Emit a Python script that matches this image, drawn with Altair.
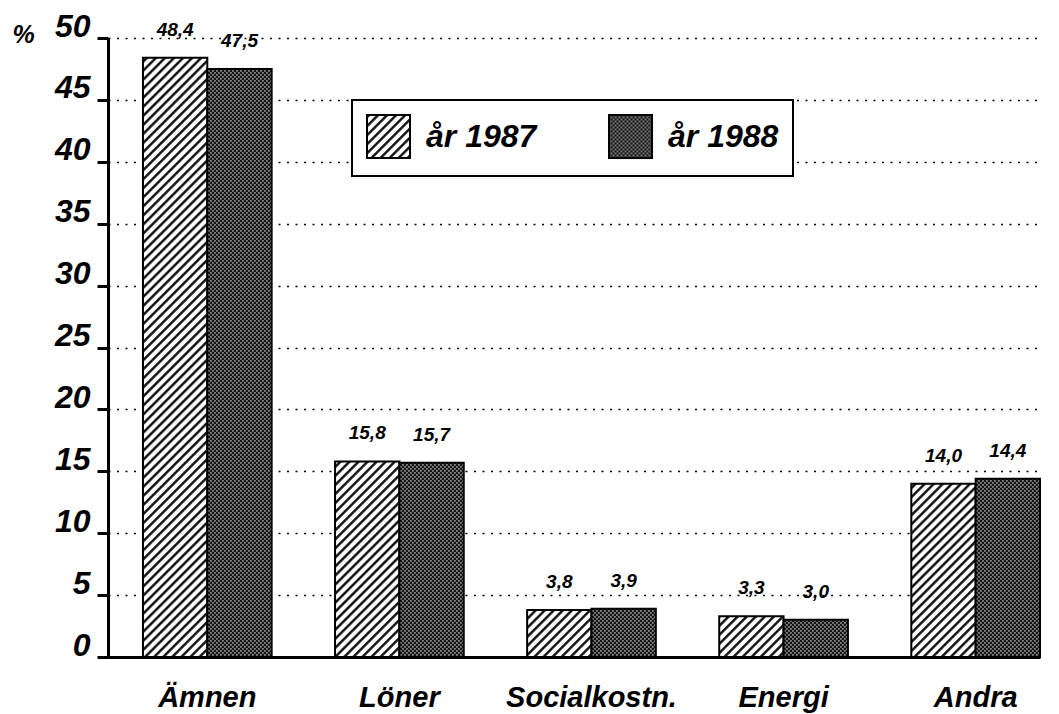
import re
import altair as alt
import pandas as pd
import altair.utils.mimebundle as _mb

# ---------------- data ----------------
categories = ["Ämnen", "Löner", "Socialkostn.", "Energi", "Andra"]
years = ["år 1987", "år 1988"]
values_1987 = [48.4, 15.8, 3.8, 3.3, 14.0]
values_1988 = [47.5, 15.7, 3.9, 3.0, 14.4]
y_ticks = [0, 5, 10, 15, 20, 25, 30, 35, 40, 45, 50]

rows = []
for cat, v87, v88 in zip(categories, values_1987, values_1988):
    for yr, v in zip(years, (v87, v88)):
        rows.append({"kategori": cat, "år": yr, "andel": v,
                     "etikett": f"{v:.1f}".replace(".", ",")})
df = pd.DataFrame(rows)

# ---------------- fill patterns (SVG defs added to the page) ----------------
DEFS = """<svg width="0" height="0" style="position:absolute;left:0;top:0" aria-hidden="true">
<defs>
<pattern id="hatch87" patternUnits="userSpaceOnUse" width="6.4" height="6.4" patternTransform="rotate(45)">
<rect width="6.4" height="6.4" fill="white"/>
<rect x="2.0" y="0" width="2.3" height="6.4" fill="black"/>
</pattern>
<pattern id="dots88" patternUnits="userSpaceOnUse" width="4" height="4">
<rect width="4" height="4" fill="#141414"/>
<rect x="0.3" y="0.3" width="1.3" height="1.3" fill="#f0f0f0"/>
<rect x="2.3" y="2.3" width="1.3" height="1.3" fill="#f0f0f0"/>
</pattern>
</defs>
</svg>"""

_orig_spec_to_html = _mb.spec_to_html


def _spec_to_html_with_defs(*args, **kwargs):
    html = _orig_spec_to_html(*args, **kwargs)
    m = re.search(r"<body[^>]*>", html)
    if m:
        return html[:m.end()] + "\n" + DEFS + html[m.end():]
    return html.replace("</html>", DEFS + "</html>")


_mb.spec_to_html = _spec_to_html_with_defs

# ---------------- chart ----------------
FONT = "Liberation Sans"
W, H = 932, 619

x_enc = alt.X(
    "kategori:N", sort=categories,
    scale=alt.Scale(paddingInner=0.33, paddingOuter=0.091, align=1),
    axis=alt.Axis(title=None, labelAngle=0, labelFontSize=29, labelFontWeight="bold",
                  labelFontStyle="italic", labelPadding=26, labelBaseline="top",
                  ticks=False, domainWidth=3, domainColor="black", grid=False,
                  labelColor="black", labelFont=FONT),
)
y_enc = alt.Y(
    "andel:Q",
    scale=alt.Scale(domain=[0, 50], nice=False),
    axis=alt.Axis(values=y_ticks, format="d", title="%", titleAngle=0, titleX=-85, titleY=-4,
                  titleAlign="center", titleBaseline="middle", titleFontSize=25,
                  titleFontWeight="bold", titleFontStyle="italic", titleColor="black",
                  titleFont=FONT,
                  labelFontSize=32, labelFontWeight="bold", labelFontStyle="italic",
                  labelBaseline="alphabetic", labelOffset=-2, labelPadding=7,
                  labelColor="black", labelFont=FONT,
                  tickSize=11, tickWidth=3, tickColor="black",
                  domainWidth=3, domainColor="black",
                  grid=True, gridDash=[2, 6.5], gridWidth=1.6, gridColor="black"),
)
xoff = alt.XOffset("år:N", sort=years)

color_enc = alt.Color(
    "år:N", sort=years,
    scale=alt.Scale(domain=years, range=["url(#hatch87) white", "url(#dots88) #333333"]),
    legend=alt.Legend(title=None, orient="none", legendX=244, legendY=62,
                      direction="horizontal", columns=2, symbolType="square",
                      symbolSize=1849, symbolStrokeColor="black", symbolStrokeWidth=2,
                      symbolOpacity=1, labelFontSize=32, labelFontWeight="bold",
                      labelFontStyle="italic", labelFont=FONT, labelColor="black",
                      labelOffset=15, columnPadding=68, padding=14,
                      fillColor="white", strokeColor="black"),
)

bars = alt.Chart(df).mark_bar(stroke="black", strokeWidth=2, opacity=1).encode(
    x=x_enc, y=y_enc, xOffset=xoff, color=color_enc
)

labels = alt.Chart(df).mark_text(
    dy=-22, baseline="alphabetic", align="center", fontSize=19, fontWeight="bold",
    fontStyle="italic", font=FONT, color="black"
).encode(x=x_enc, y=y_enc, xOffset=xoff, text="etikett:N")

chart = (
    alt.layer(bars, labels)
    .properties(width=W, height=H, autosize=alt.AutoSizeParams(type="none"),
                padding={"left": 100, "top": 30, "right": 11, "bottom": 57},
                background="white")
    .configure(font=FONT)
    .configure_view(stroke="transparent")
    .configure_legend(strokeWidth=2)
)

chart.save("out.html", embed_options={"renderer": "svg", "actions": False})
